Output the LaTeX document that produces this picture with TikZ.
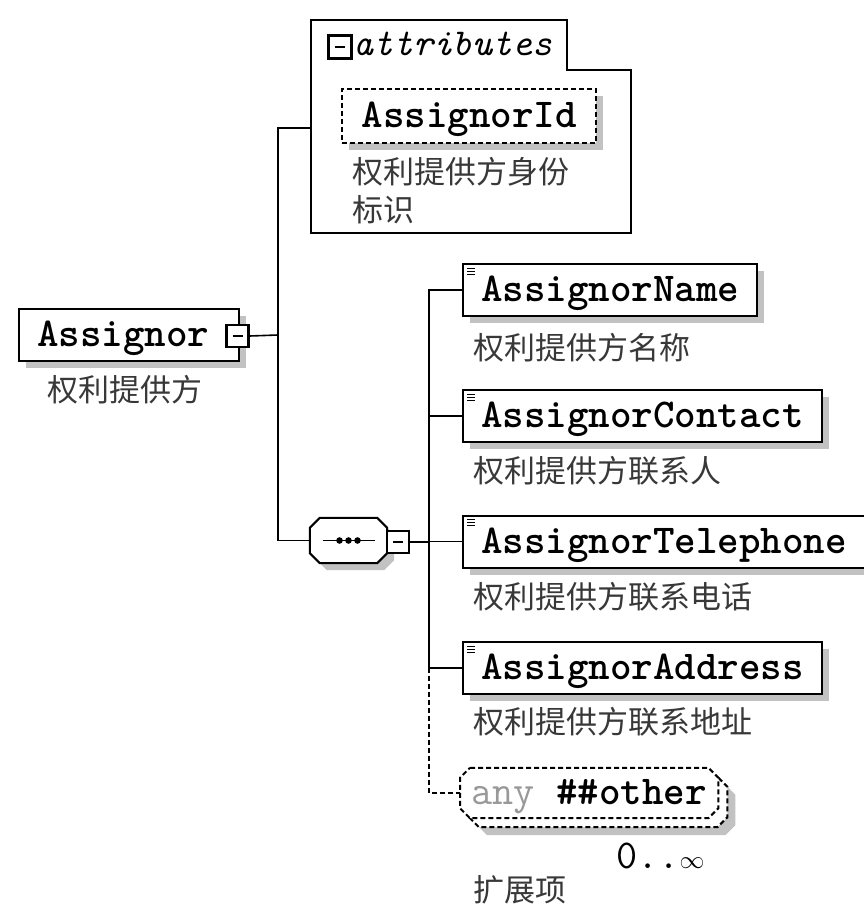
\documentclass[tikz,border=0pt]{standalone}
\usepackage{fontspec}
\newfontfamily\cjk{Noto Sans CJK SC}
\usetikzlibrary{shadows}

\newcommand\octagon[2]{([xshift=#2]#1.north west) -- ([xshift=-#2]#1.north east)
  -- ([yshift=-#2]#1.north east) -- ([yshift=#2]#1.south east)
  -- ([xshift=-#2]#1.south east) -- ([xshift=#2]#1.south west)
  -- ([yshift=#2]#1.south west) -- ([yshift=-#2]#1.north west) -- cycle}

\tikzset{
  conn/.style={line width=1.6},
  shadowc/.style={fill=black!24},
  boxshadow/.style={drop shadow={shadow xshift=7pt, shadow yshift=-7pt, fill=black!24, opacity=1}},
  elembox/.style={draw, line width=2, fill=white, anchor=west, boxshadow,
    font={\ttfamily\bfseries\fontsize{41}{41}\selectfont},
    inner xsep=18, inner ysep=0, minimum height=52, text height=29, text depth=6},
  attrbox/.style={elembox, line width=2.2, dash pattern=on 5pt off 3pt},
  minusbox/.style={draw, line width=2.4, fill=white, minimum size=22, inner sep=0,
    path picture={\draw[line width=1.4] ([xshift=-5]path picture bounding box.center)
      -- ([xshift=5]path picture bounding box.center);}},
  octframe/.style={inner sep=0, minimum width=#1},
  anydash/.style={line width=2, dash pattern=on 5pt off 3pt, fill=white},
  desc/.style={anchor=west, inner sep=0, text=black!78, font={\cjk\fontsize{31}{38}\selectfont}}
}

\begin{document}
\begin{tikzpicture}[x=1pt,y=-1pt]
  \useasboundingbox (0,0) rectangle (863,907);

  % root element
  \node[elembox, minimum width=220] (assignor) at (18,335) {Assignor\hspace*{12pt}};
  \node[minusbox] (assignorX) at (237.5,336) {};
  \node[desc] (assignorD) at (47,390) {权利提供方};

  % attributes group
  \draw[line width=2, fill=white] (311,20) -- (567,20) -- (567,70) -- (631,70)
    -- (631,233) -- (311,233) -- cycle;
  \coordinate (attrs) at (311,128);
  \node[minusbox, minimum size=23] (attrsX) at (340,47) {};
  \node[anchor=base west, inner sep=0, font={\ttfamily\itshape\fontsize{38}{38}\selectfont}]
    (attrsT) at (353,56) {attributes};
  \node[attrbox, minimum width=254, minimum height=54] (assignorId) at (341,116) {AssignorId};
  \node[desc, align=left] (assignorIdD) at (352,191) {权利提供方身份\\标识};

  % sequence
  \node[octframe=77, minimum height=45] (seq) at (348.5,540.5) {};
  \node[octframe=77, minimum height=45] (seqS) at (355.5,547.5) {};
  \fill[shadowc] \octagon{seqS}{10pt};
  \filldraw[line width=2, fill=white] \octagon{seq}{10pt};
  \draw[line width=1.5] ([xshift=-26]seq.center) -- ([xshift=26]seq.center);
  \foreach \dx in {-9,0,9}
    \fill ([xshift=\dx]seq.center) circle (3.3);
  \node[minusbox] (seqX) at (398,542) {};

  % children
  \node[elembox] (name) at (462,290) {AssignorName};
  \node[desc] (nameD) at (473,348) {权利提供方名称};
  \node[elembox] (contact) at (462,416) {AssignorContact};
  \node[desc] (contactD) at (473,471) {权利提供方联系人};
  \node[elembox] (phone) at (462,541.5) {AssignorTelephone};
  \node[desc] (phoneD) at (473,597) {权利提供方联系电话};
  \node[elembox] (address) at (462,668) {AssignorAddress};
  \node[desc] (addressD) at (473,722) {权利提供方联系地址};

  \foreach \n in {name,contact,phone,address}
    \foreach \k in {0,3,6}
      \draw[line width=0.9] ([shift={(5,5+\k)}]\n.north west) -- ++(8,0);

  % any
  \node[octframe=258, minimum height=50, anchor=west] (any) at (460,793) {};
  \node[octframe=258, minimum height=50, anchor=west] (anyB) at (469,802) {};
  \node[octframe=258, minimum height=50, anchor=west] (anyS) at (477,810) {};
  \fill[shadowc] \octagon{anyS}{10pt};
  \filldraw[anydash] \octagon{anyB}{10pt};
  \filldraw[anydash] \octagon{any}{10pt};
  \node[inner sep=0, font={\ttfamily\fontsize{41}{41}\selectfont}, text height=29, text depth=6]
    (anyT) at (any.center) {\textcolor{black!40}{any} \textbf{\#\#other}};
  \node[anchor=west, inner sep=0, font={\ttfamily\fontsize{41}{41}\selectfont}]
    (anyN) at (616,856) {0..$\infty$};
  \node[desc] (anyD) at (473,890) {扩展项};

  % connectors
  \coordinate (fork) at (278,335);
  \draw[conn] (assignorX.east) -- (fork);
  \draw[conn] (attrs) -| (fork) |- (seq.west);
  \coordinate (fork2) at (429,542);
  \draw[conn] (seqX.east) -- (fork2);
  \foreach \n in {name,contact,phone,address}
    \draw[conn] (fork2) |- (\n.west);
  \draw[conn, dash pattern=on 5pt off 3pt] (address.west -| fork2) |- (any.west);
\end{tikzpicture}
\end{document}
